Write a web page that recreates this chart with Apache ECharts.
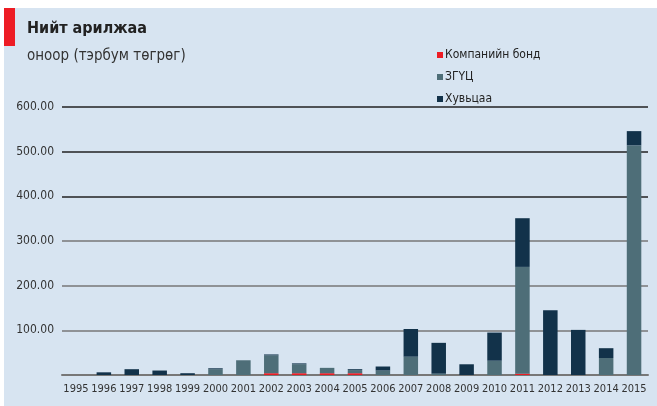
<!DOCTYPE html>
<html>
<head>
<meta charset="utf-8">
<script src="https://cdn.jsdelivr.net/npm/echarts@6/dist/echarts.min.js"></script>
<style>
  html, body { margin: 0; padding: 0; background: #fff; }
  #chart { width: 657px; height: 406px; }
</style>
</head>
<body>
<div id="chart"></div>
<script>
const years = ["1995", "1996", "1997", "1998", "1999", "2000", "2001", "2002", "2003", "2004",
  "2005", "2006", "2007", "2008", "2009", "2010", "2011", "2012", "2013", "2014", "2015"];
const bondValues = [0, 0, 0, 0, 0, 0, 0, 4, 4, 4, 4, 0, 0, 0, 0, 0, 3, 0, 0, 0, 0];
const govValues = [0, 0, 0, 0, 0, 13, 33, 40, 20, 12, 7, 10, 41, 3, 0, 32, 239, 0, 0, 38, 514];
const stockValues = [0, 6, 13, 10, 4, 2, 0, 2, 2, 0, 2, 9, 62, 69, 24, 63, 109, 145, 101, 22, 32];
const seriesNames = ["Компанийн бонд", "ЗГҮЦ", "Хувьцаа"];

const font = '"DejaVu Sans Condensed", Roboto, sans-serif';
const textColor = "#333";

const chart = echarts.init(document.getElementById("chart"));
chart.setOption({
  animation: false,
  backgroundColor: "#ffffff",
  textStyle: { fontFamily: font },
  graphic: [
    { type: "rect", shape: { x: 4, y: 8, width: 653, height: 398 }, style: { fill: "#d7e4f1" }, z: -10 },
    { type: "rect", shape: { x: 4, y: 8, width: 11, height: 38 }, style: { fill: "#ed1c24" }, z: -9 },
    {
      type: "text", left: 27, top: 21,
      style: { text: "Нийт арилжаа", font: 'bold 16px ' + font, fill: "#222" }
    },
    {
      type: "text", left: 27, top: 49,
      style: { text: "оноор (тэрбум төгрөг)", font: '15px ' + font, fill: "#333" }
    }
  ],
  legend: {
    orient: "vertical",
    left: 432,
    top: 44,
    itemWidth: 6,
    itemHeight: 6,
    itemGap: 10,
    icon: "rect",
    data: seriesNames,
    textStyle: { color: "#222", fontSize: 12, fontFamily: font, padding: [0, 0, 0, -3] }
  },
  grid: { left: 62, right: 9, top: 107, bottom: 31, containLabel: false },
  xAxis: {
    type: "category",
    data: years,
    axisLine: { lineStyle: { color: "#777", width: 2 } },
    axisTick: { show: false },
    axisLabel: { color: textColor, fontSize: 11, fontFamily: font, margin: 9, interval: 0 }
  },
  yAxis: {
    type: "value",
    min: 0,
    max: 600,
    interval: 100,
    axisLine: { show: false },
    axisTick: { show: false },
    axisLabel: {
      color: textColor, fontSize: 12, fontFamily: font, margin: 8,
      formatter: v => (v === 0 ? "" : v.toFixed(2))
    },
    splitLine: {
      lineStyle: { color: ["#777", "#777", "#777", "#777", "#222", "#222", "#222"], width: 1.5 }
    }
  },
  series: [
    { name: seriesNames[0], type: "bar", stack: "t", data: bondValues, barWidth: "52%", itemStyle: { color: "#ed1c24" } },
    { name: seriesNames[1], type: "bar", stack: "t", data: govValues, barWidth: "52%", itemStyle: { color: "#4e6e78" } },
    { name: seriesNames[2], type: "bar", stack: "t", data: stockValues, barWidth: "52%", itemStyle: { color: "#12324a" } }
  ]
});
</script>
</body>
</html>
